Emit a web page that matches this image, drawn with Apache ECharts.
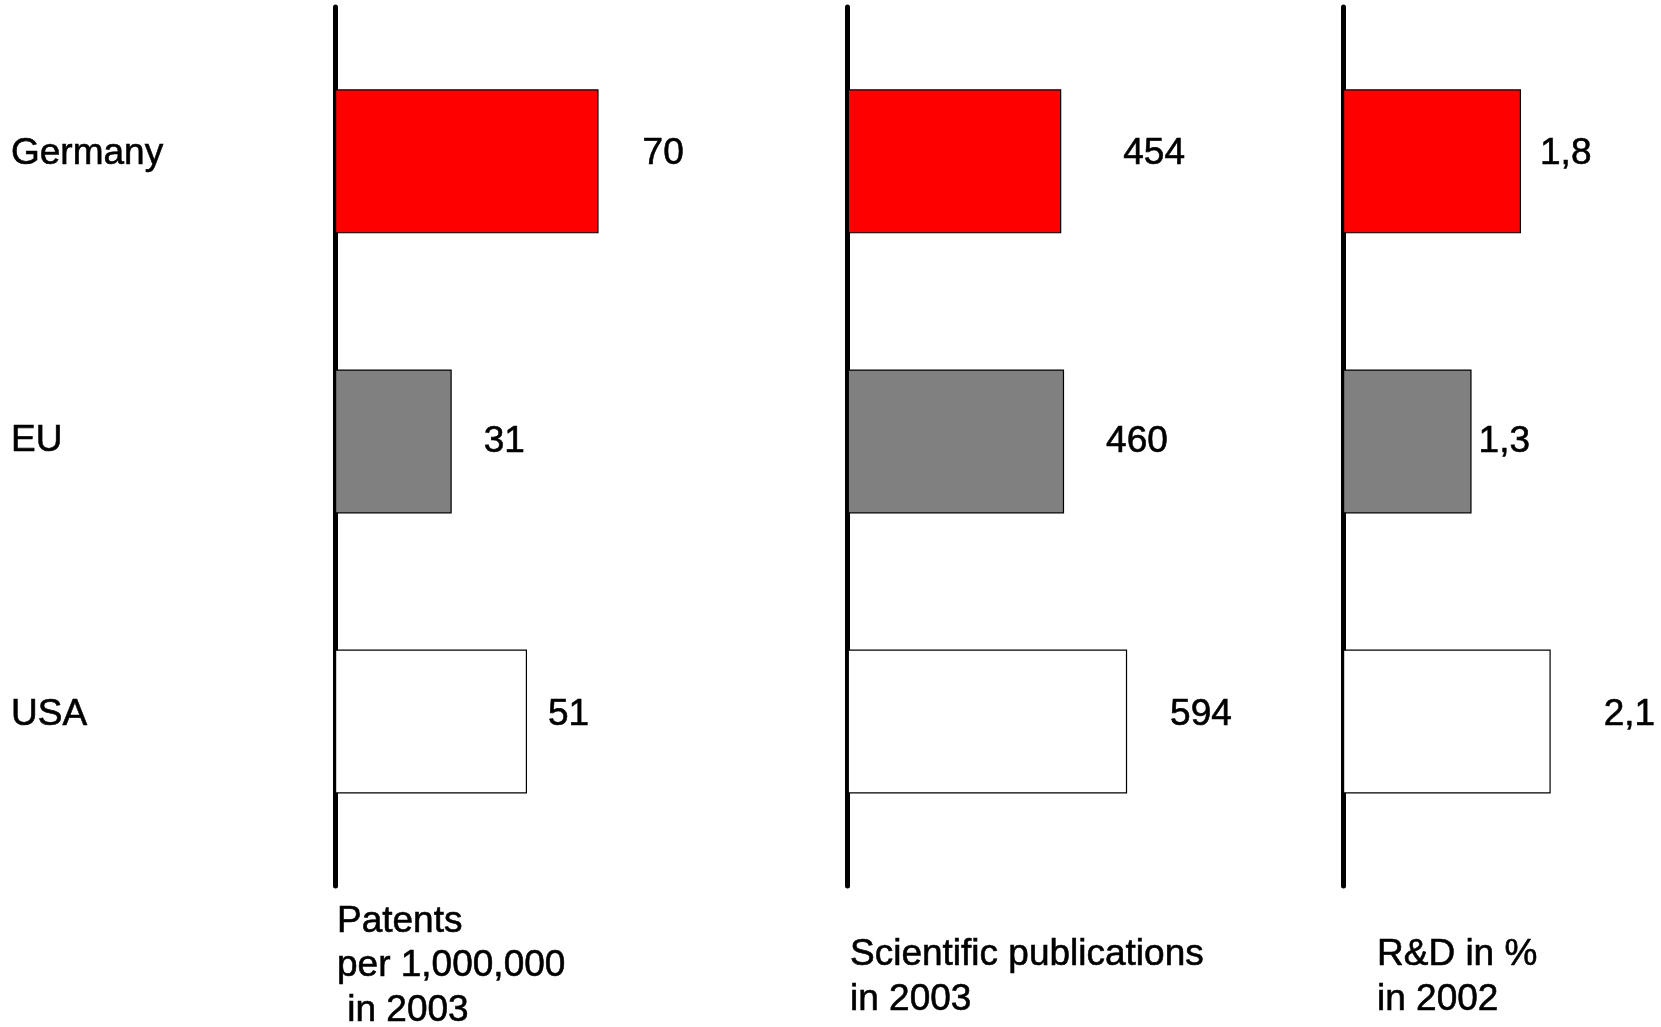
<!DOCTYPE html>
<html>
<head>
<meta charset="utf-8">
<script src="https://cdn.jsdelivr.net/npm/echarts@6/dist/echarts.min.js"></script>
<style>
html, body { margin: 0; padding: 0; background: #fff; }
#chart { width: 1661px; height: 1027px; }
</style>
</head>
<body>
<div id="chart"></div>
<script>
// ---- data ----
const categories = ['Germany', 'EU', 'USA'];
const patents = [70, 31, 51];
const publications = [454, 460, 594];
const rdShare = [1.8, 1.3, 2.1];
const panelTitles = ['Patents\nper 1,000,000\n in 2003', 'Scientific publications\nin 2003', 'R&D in %\nin 2002'];

// ---- styling / layout ----
const barColors = ['#FF0000', '#808080', '#FFFFFF'];
const rowShift = [-8, 0, -7];          // vertical nudge of the texts of each row (px)
const FONT = '"Liberation Sans", Arial, Helvetica, sans-serif';
const FS = 37;
const TEXT = { fontSize: FS, fontFamily: FONT, color: '#000', textBorderColor: '#000', textBorderWidth: 0.6 };
const panels = [
  { values: patents,      left: 335,   max: 100,  width: 376.5, gaps: [44, 32, 21], titleLeft: 337,  titleTop: 899.5, lh: 44.5 },
  { values: publications, left: 847.7, max: 1000, width: 470.4, gaps: [62, 42, 43], titleLeft: 850,  titleTop: 932,   lh: 45 },
  { values: rdShare,      left: 1343,  max: 3,    width: 296.7, gaps: [19, 7, 53],  titleLeft: 1377, titleTop: 932,   lh: 45 }
];

const richRows = {};
categories.forEach((c, j) => {
  richRows['r' + j] = Object.assign({ lineHeight: Math.max(1, -2 * rowShift[j]) }, TEXT);
});

const grid = [], xAxis = [], yAxis = [], series = [], title = [];
panels.forEach((p, i) => {
  // grid for bars
  grid.push({ left: p.left, top: 21.3, width: p.width, height: 840.3 });
  // grid carrying the thick vertical axis line
  grid.push({ left: p.left, top: 7, width: 10, height: 879 });

  xAxis.push({ gridIndex: 2 * i, type: 'value', min: 0, max: p.max, show: false });
  yAxis.push({
    gridIndex: 2 * i, type: 'category', data: categories, inverse: true,
    axisLine: { show: false }, axisTick: { show: false }, splitLine: { show: false },
    axisLabel: i === 0 ? Object.assign({
      show: true, align: 'left', margin: 324,
      verticalAlign: 'bottom',
      formatter: (v, idx) => '{r' + idx + '|' + v + '}',
      rich: richRows
    }, TEXT) : { show: false }
  });

  xAxis.push({ gridIndex: 2 * i + 1, type: 'value', min: 0, max: 1, show: false });
  yAxis.push({
    gridIndex: 2 * i + 1, type: 'value', min: 0, max: 1,
    axisLine: { show: true, lineStyle: { color: '#000', width: 5 } },
    axisTick: { show: false }, axisLabel: { show: false }, splitLine: { show: false }
  });

  series.push({
    type: 'bar',
    xAxisIndex: 2 * i, yAxisIndex: 2 * i,
    barWidth: 144,
    data: p.values.map((v, j) => ({
      value: v,
      itemStyle: { color: barColors[j] },
      label: { distance: p.gaps[j], offset: [0, rowShift[j]] }
    })),
    itemStyle: { borderColor: '#000', borderWidth: 1.2 },
    label: Object.assign({
      show: true, position: 'right',
      formatter: (d) => String(d.value).replace('.', ',')
    }, TEXT),
    animation: false,
    silent: true
  });

  title.push({
    text: panelTitles[i], left: p.titleLeft, top: p.titleTop, padding: 0,
    textStyle: Object.assign({ fontWeight: 'normal', lineHeight: p.lh }, TEXT)
  });
});

const chart = echarts.init(document.getElementById('chart'), null, { renderer: 'canvas' });
chart.setOption({
  backgroundColor: '#fff',
  animation: false,
  title, grid, xAxis, yAxis, series
});
</script>
</body>
</html>
